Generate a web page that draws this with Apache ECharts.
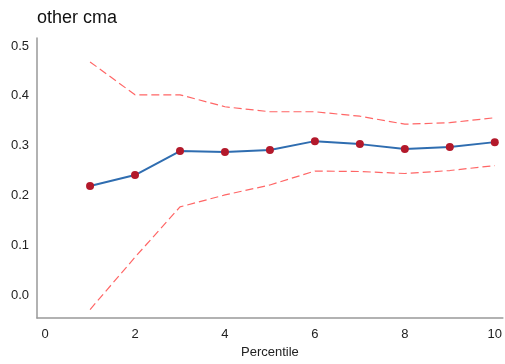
<!DOCTYPE html>
<html><head><meta charset="utf-8">
<script src="https://cdn.jsdelivr.net/npm/echarts@6/dist/echarts.min.js"></script>
<style>html,body{margin:0;padding:0;background:#fff}#c{width:505px;height:364px}</style>
</head><body><div id="c"></div>
<script>
const percentiles = [1,2,3,4,5,6,7,8,9,10];
const estimate = [0.219,0.241,0.289,0.287,0.291,0.309,0.303,0.293,0.297,0.307];
const upperCI = [0.468,0.402,0.402,0.378,0.368,0.368,0.359,0.343,0.346,0.356];
const lowerCI = [-0.029,0.076,0.177,0.201,0.221,0.249,0.248,0.244,0.250,0.260];
const xTicks = [0,2,4,6,8,10];
const yTicks = [0,0.1,0.2,0.3,0.4,0.5];

const pairs = a => percentiles.map((p,i)=>[p,a[i]]);
const chart = echarts.init(document.getElementById('c'), null, {renderer:'canvas'});
const font = 'Liberation Sans, Arial, sans-serif';
chart.setOption({
  animation:false,
  title:{text:'other cma',left:37,top:9,padding:0,textStyle:{fontFamily:font,fontSize:18,fontWeight:'normal',color:'#111'}},
  grid:{left:37,right:1,top:38,bottom:46,containLabel:false},
  xAxis:{type:'value',min:-0.18,max:10.18,
    name:'Percentile',nameLocation:'middle',nameGap:28,
    nameTextStyle:{fontFamily:font,fontSize:13,color:'#222'},
    axisLine:{show:true,onZero:false,lineStyle:{color:'#999',width:1.5}},
    axisTick:{show:false},splitLine:{show:false},
    axisLabel:{customValues:xTicks,fontFamily:font,fontSize:13,color:'#222',margin:10}},
  yAxis:{type:'value',min:-0.046,max:0.516,
    axisLine:{show:true,onZero:false,lineStyle:{color:'#999',width:1.5}},
    axisTick:{show:false},splitLine:{show:false},
    axisLabel:{customValues:yTicks,fontFamily:font,fontSize:13,color:'#222',margin:8,
      formatter:v=>v.toFixed(1)}},
  series:[
    {type:'line',data:pairs(upperCI),symbol:'none',lineStyle:{color:'#ff6666',width:1.2,type:[8,4]},z:1},
    {type:'line',data:pairs(lowerCI),symbol:'none',lineStyle:{color:'#ff6666',width:1.2,type:[8,4]},z:1},
    {type:'line',data:pairs(estimate),symbol:'circle',symbolSize:8,
      lineStyle:{color:'#2f6db0',width:2},itemStyle:{color:'#b3192b'},z:3}
  ]
});
</script></body></html>
